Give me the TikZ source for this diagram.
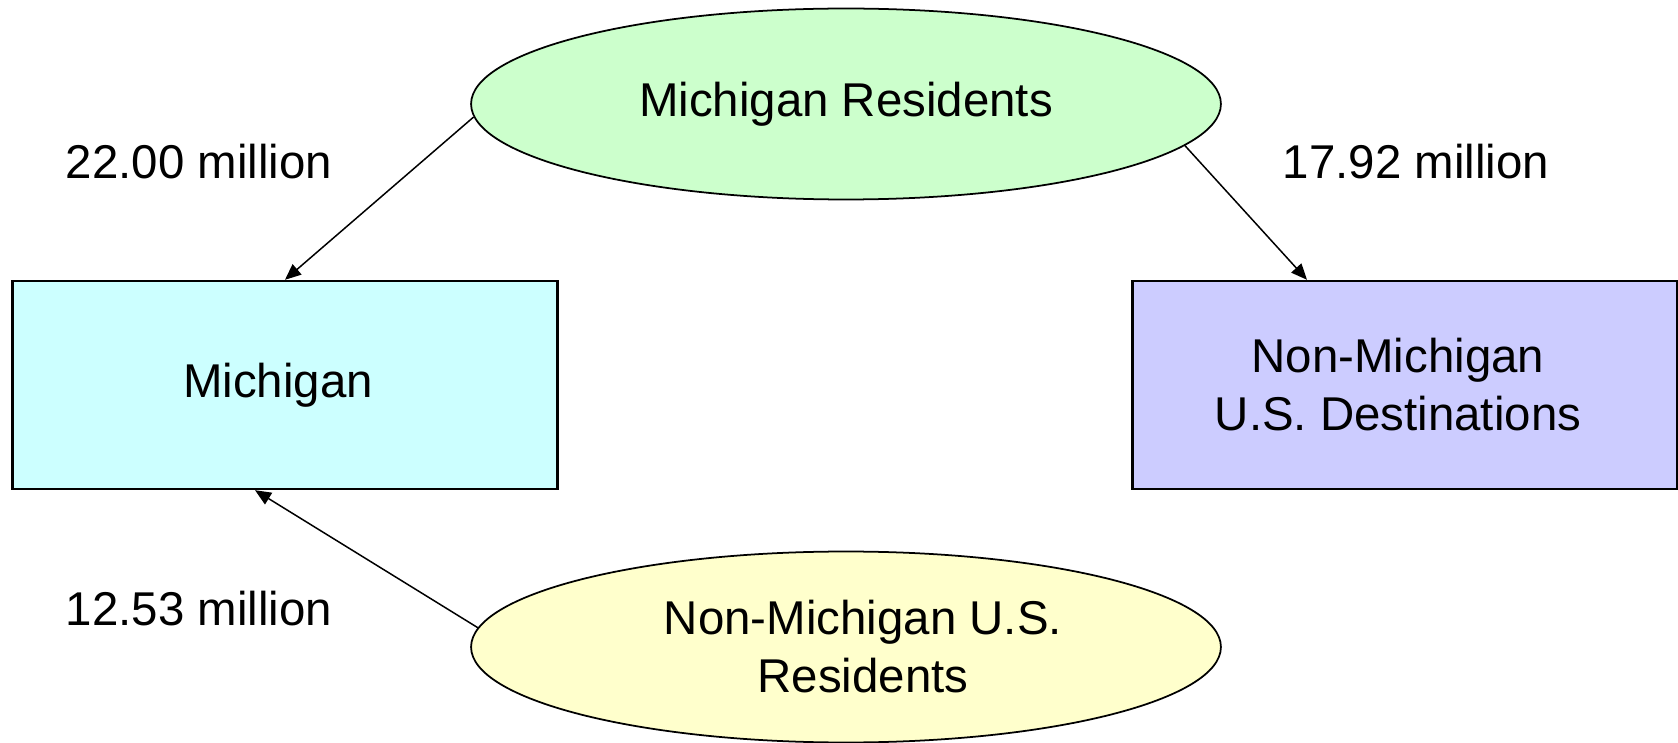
\documentclass[tikz,border=0pt]{standalone}
\usepackage{fontspec}
\setmainfont{Liberation Sans}
\usepackage{tikz}
\usetikzlibrary{arrows.meta,positioning,calc,shapes.geometric}

\definecolor{resgreen}{HTML}{CCFFCC}
\definecolor{michcyan}{HTML}{CCFFFF}
\definecolor{destblue}{HTML}{CCCCFF}
\definecolor{visyellow}{HTML}{FFFFCC}

\begin{document}
\begin{tikzpicture}[x=0.02cm,y=-0.02cm,
    every node/.style={font=\fontsize{27}{33}\selectfont,align=center},
    place/.style={ellipse,draw,line width=1pt,inner sep=0pt,
      minimum width=15cm,minimum height=3.82cm},
    region/.style={rectangle,draw,line width=1.4pt,inner sep=0pt,
      minimum width=10.9cm,minimum height=4.16cm},
    flow/.style={-{Triangle[length=0.32cm,width=0.27cm]},line width=0.85pt}]
  \useasboundingbox (0,0) rectangle (1678,743);

  % origins
  \node[place,fill=resgreen] (mires) at (846,104) {Michigan Residents};
  \node[place,fill=visyellow] (nonres) at (846,647)
    {\hspace*{0.68cm}Non-Michigan U.S.\\\hspace*{0.68cm}Residents};

  % destinations
  \node[region,fill=michcyan] (mich) at (285,385) {Michigan\hspace*{0.28cm}};
  \node[region,fill=destblue] (nonmich) at (1405,385)
    {Non-Michigan\hspace*{0.28cm}\\U.S. Destinations\hspace*{0.28cm}};

  % flows
  \draw[flow] (mires.182.8) -- (mich.north);
  \draw[flow] (mires.353) -- ([xshift=-1.96cm]nonmich.north);
  \draw[flow] (nonres.177.4) -- ([xshift=-0.6cm]mich.south);

  % amounts
  \node (lmich) at (199,162) {22.00 million};
  \node (lnonmich) at (1416,162) {17.92 million};
  \node (lnonres) at (199,609) {12.53 million};
\end{tikzpicture}
\end{document}
